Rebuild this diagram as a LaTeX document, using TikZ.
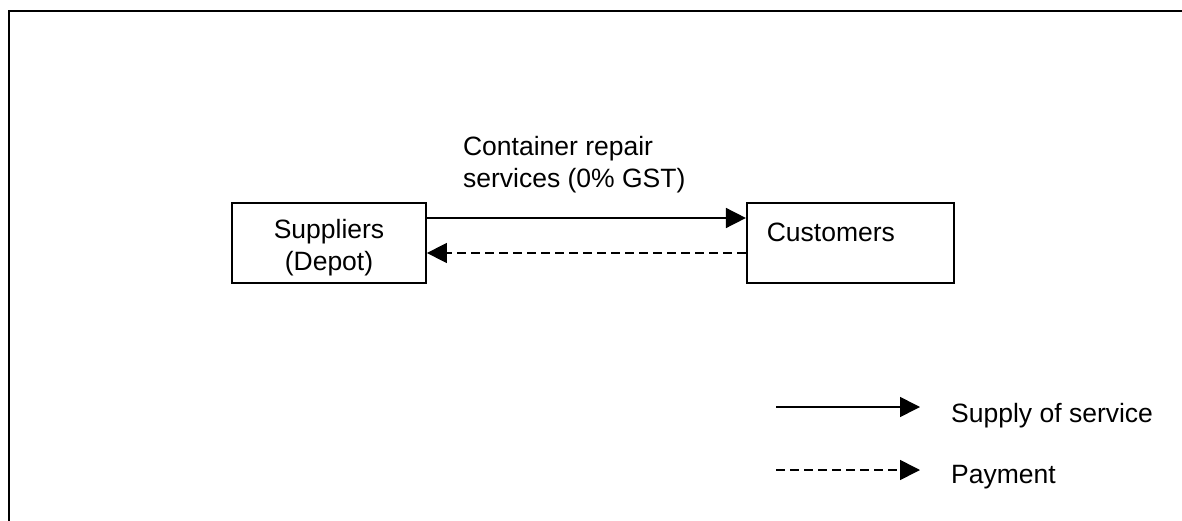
\documentclass[tikz,border=0pt]{standalone}
\usepackage{fontspec}
\setmainfont{Liberation Sans}
\usepackage{tikz}
\usetikzlibrary{positioning,arrows.meta}

\begin{document}
\begin{tikzpicture}[x=1pt, y=-1pt,
        font=\fontsize{26.5}{32}\selectfont,
        boxnode/.style={rectangle, draw=black, line width=1.8pt, minimum height=80pt, inner xsep=20pt, inner ysep=0pt, text height=28pt},
        flow/.style={line width=1.6pt, -{Triangle[length=20pt, width=20pt]}},
        payflow/.style={flow, dash pattern=on 9pt off 5pt},
        lbl/.style={inner sep=0pt, align=left}]

        \useasboundingbox (0,0) rectangle (1182,521);
        \draw[line width=2.4pt] (9,521) -- (9,11) -- (1182,11);

        \node[boxnode, text width=154pt, align=center] (sup) at (329,243) {Suppliers\\(Depot)};
        \node[boxnode, text width=167pt, align=left] (cus) [right=319pt of sup] {Customers\\\mbox{}};

        \draw[flow] ([yshift=25pt]sup.east) -- ([yshift=25pt]cus.west);
        \draw[payflow] ([yshift=-10pt]cus.west) -- ([yshift=-10pt]sup.east);
        \node[lbl, anchor=south west] (svc) [above right=50pt and 36pt of sup.east] {Container repair\\services (0\% GST)};

        % legend
        \coordinate (ls1) at (776,407);
        \coordinate (le1) at (920,407);
        \coordinate (ls2) at (776,470);
        \coordinate (le2) at (920,470);
        \draw[flow] (ls1) -- (le1);
        \draw[payflow] (ls2) -- (le2);
        \node[lbl, anchor=base west] (supply) at (951,422) {Supply of service};
        \node[lbl, anchor=base west] (pay) at (951,483) {Payment};

\end{tikzpicture}
\end{document}
